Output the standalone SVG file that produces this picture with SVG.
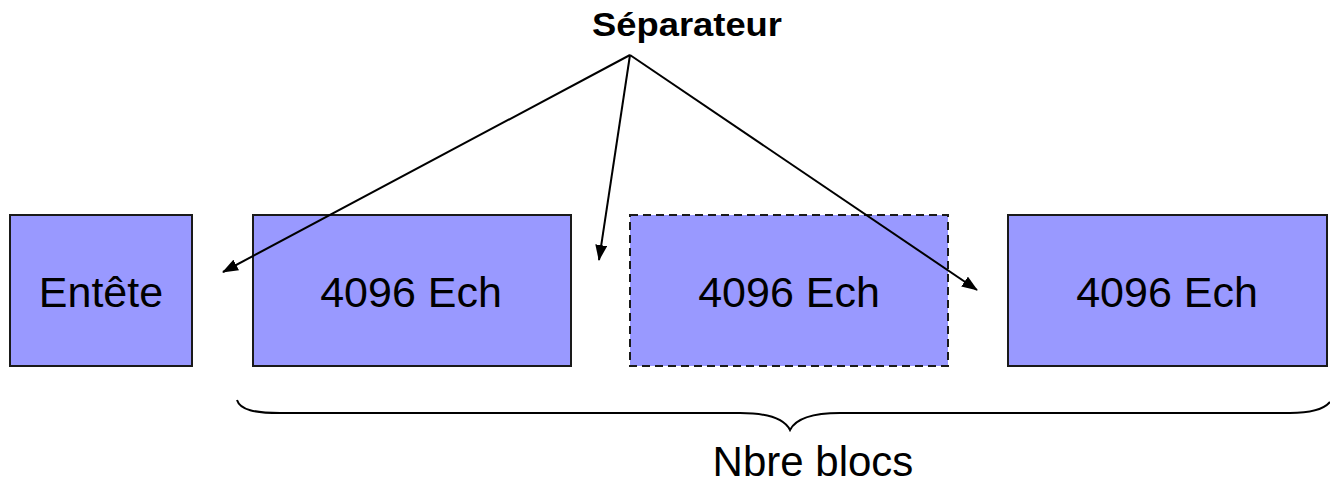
<svg xmlns="http://www.w3.org/2000/svg" width="1330" height="482" viewBox="0 0 1330 482">
<style>
.box{fill:#9999ff;stroke:#1a1a1a;stroke-width:2}
.dash{stroke-dasharray:8 5}
.lbl{font-family:"Liberation Sans",Arial,sans-serif;font-size:43px;fill:#000;text-anchor:middle}
.ttl{font-family:"Liberation Sans",Arial,sans-serif;font-size:33px;font-weight:bold;fill:#000;text-anchor:middle}
.conn{stroke:#000;stroke-width:2;fill:none}
</style>
<defs>
<marker id="ah" markerWidth="16" markerHeight="12" refX="15" refY="6" orient="auto" markerUnits="userSpaceOnUse">
<path d="M0,0 L16,6 L0,12 Z" fill="#000"/>
</marker>
</defs>
<rect width="1330" height="482" fill="#fff"/>
<g id="n-entete"><rect class="box" x="10" y="215" width="182" height="151"/><text class="lbl" x="101" y="307">Entête</text></g>
<g id="n-bloc1"><rect class="box" x="253" y="215" width="318" height="151"/><text class="lbl" x="411" y="307">4096 Ech</text></g>
<g id="n-bloc2"><rect class="box dash" x="630" y="215" width="318" height="151"/><text class="lbl" x="789" y="307">4096 Ech</text></g>
<g id="n-bloc3"><rect class="box" x="1008" y="215" width="319" height="151"/><text class="lbl" x="1167" y="307">4096 Ech</text></g>
<g id="n-sep"><text class="ttl" x="687" y="36" textLength="190" lengthAdjust="spacingAndGlyphs">Séparateur</text></g>
<g id="connectors">
<line class="conn" x1="630" y1="55" x2="223" y2="272" marker-end="url(#ah)"/>
<line class="conn" x1="630" y1="55" x2="599" y2="260" marker-end="url(#ah)"/>
<line class="conn" x1="630" y1="55" x2="977" y2="290" marker-end="url(#ah)"/>
</g>
<g id="brace"><path class="conn" d="M237,400 C240,410 255,413 280,413 L740,413 C770,413 785,420 790,430 C795,420 810,413 840,413 L1290,413 C1315,413 1325,408 1330,402"/></g>
<g id="n-nbre"><text class="lbl" x="813" y="476" style="font-size:42px">Nbre blocs</text></g>
</svg>
